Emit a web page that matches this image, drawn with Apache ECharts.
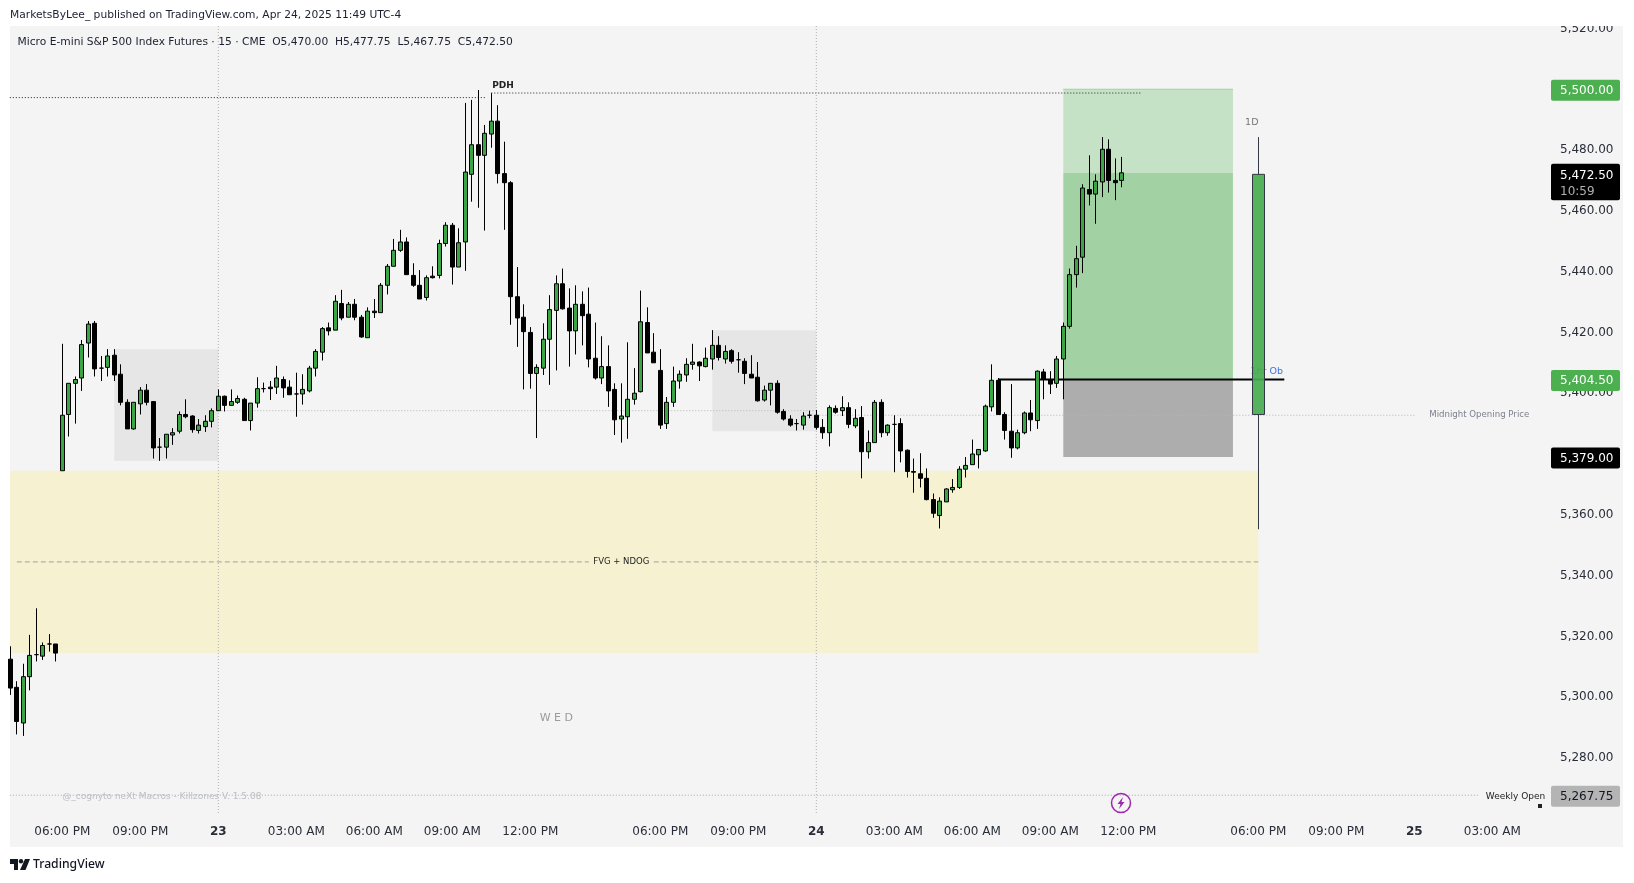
<!DOCTYPE html>
<html>
<head>
<meta charset="utf-8">
<title>Micro E-mini S&P 500</title>
<style>
html, body { margin: 0; padding: 0; background: #fff; }
#chart { width: 1634px; height: 883px; }
</style>
<script src="https://cdn.jsdelivr.net/npm/echarts@6/dist/echarts.min.js"></script>
</head>
<body>
<div id="chart"></div>
<script>
// 15 minute bars, one entry per bar, session break has no gap
var opens = [5312.5,5303.25,5291.5,5306.75,5314,5313.5,5317.5,5317.5,5374.5,5393,5403.25,5405,5416.5,5423,5408.25,5408.5,5412.5,5406.25,5397,5388.25,5396.5,5401,5397.25,5382.25,5382.25,5386.25,5387.5,5393,5392.5,5387.75,5389,5390.75,5394.25,5399,5396,5397,5398,5391,5396.75,5401.5,5402,5402,5404.5,5402,5399.75,5399.75,5400.75,5408.25,5413.5,5421.5,5420.75,5429.5,5425,5429.25,5425,5418.25,5427,5426.5,5435.5,5441.75,5447,5449.75,5438.75,5435.5,5431.5,5438.5,5438.75,5449.25,5455.25,5441.5,5449.75,5472,5481.75,5478.25,5485.25,5489.5,5472.25,5469.25,5431.75,5425,5420,5406.5,5408.25,5417.75,5427.25,5436,5428,5420.5,5429.25,5426,5411.5,5405,5408.75,5401.25,5391.5,5392.25,5398,5400.5,5423.25,5413.5,5407.5,5390,5397,5404,5406,5409.5,5410.25,5408.75,5411.25,5415.75,5411.25,5414,5411,5410.5,5406.25,5405.25,5397.75,5401,5403.25,5394,5391.5,5390,5389.5,5392.75,5392.75,5388.75,5387,5395,5394.25,5395.25,5389.25,5392,5380.75,5383.75,5397,5387,5389.75,5390,5381.25,5374.25,5373.5,5372,5365,5359.75,5364.25,5368.25,5369,5375,5376.5,5379.75,5381,5395.5,5404.25,5393,5387.5,5382,5387,5393.5,5391,5407,5404.5,5403.25,5411.25,5422,5439,5444.75,5467,5465.5,5469.5,5480.25,5470,5470];
var closes = [5303,5292,5306.75,5313.75,5314,5317,5317.5,5314.5,5392.75,5403.25,5404.5,5416,5422.75,5408,5408.25,5412.25,5406,5397,5388.25,5397,5401,5397,5382,5382.25,5386.5,5387,5393,5392.25,5388,5389.5,5390.75,5394.25,5399,5396,5397.25,5398.25,5391,5396.75,5401.5,5401.5,5401.5,5405,5401.75,5399.5,5399.75,5401.25,5408.25,5413.75,5421.25,5420.5,5430.25,5424.75,5429.25,5425,5418.5,5427,5426.5,5435.5,5441.75,5447,5449.75,5439,5435.5,5431,5438,5438,5449.25,5455.25,5441.5,5449.5,5472.75,5481.75,5478.25,5485.5,5489.5,5472.25,5469.25,5431.75,5424.75,5420.25,5406.5,5408.5,5417.75,5427.5,5436,5427.75,5420.5,5429.25,5425.5,5411.25,5405,5408.75,5400.75,5391.25,5392.5,5398,5400,5423.5,5413.25,5410,5389.5,5397,5404,5406.25,5409.5,5410.25,5409,5411.5,5415.75,5411.75,5413.75,5410.5,5411,5406.5,5405,5397.5,5401,5403.25,5393.75,5391.5,5389.5,5390,5392.5,5392.75,5388.75,5387,5395.25,5393.75,5395.25,5389.75,5391.75,5380.75,5383.75,5397,5387,5389.5,5389.75,5381,5374.25,5374,5372,5365,5360.5,5364.5,5368.5,5369,5375,5376.25,5380,5381.5,5395.75,5404.25,5393,5387.75,5382,5387,5393.5,5391.25,5407.25,5404.5,5403,5411.25,5422,5439,5444.25,5467.5,5465.5,5469.75,5480.25,5470,5469.25,5472.5];
var lows = [5300.75,5287.75,5287.25,5302.25,5311.75,5312.25,5315,5311.75,5374.5,5385.75,5390,5400.75,5411.75,5405.5,5404,5405.5,5404,5396,5388.25,5388,5393,5396,5378.5,5377.75,5378.5,5383,5386.75,5391.75,5387,5386.75,5387.25,5388.75,5394.25,5394,5396,5396.5,5391,5387.75,5395.25,5400.25,5397.75,5399.75,5398.5,5399.5,5392.25,5396.25,5400.25,5405.5,5410.75,5419,5420.75,5424,5425,5424,5418.25,5418.25,5424.75,5426.5,5432.5,5441.75,5446.5,5439,5435,5431,5430.5,5437.75,5437.75,5448.25,5435.75,5441.5,5440.25,5463,5461,5453.5,5480.75,5469,5453.75,5422.5,5415.25,5401.25,5401.5,5385.25,5406,5402.75,5407.5,5427.5,5408.75,5412.75,5415.75,5408.5,5404.5,5403,5395.5,5386.25,5383.75,5385,5396.25,5400.25,5413.25,5410,5388.25,5388.25,5395.5,5401.5,5403.75,5407.75,5404,5408.5,5407.75,5410.75,5409.75,5409.75,5406.75,5403,5405,5397.25,5397.25,5396,5393.25,5391,5389,5387.75,5388,5391.75,5388,5385,5382.5,5393.25,5392.5,5388.5,5388.5,5372,5378.5,5383.75,5385.5,5386,5374,5377.25,5372.25,5367.25,5369,5364.75,5359,5355.5,5364.25,5367.25,5368.5,5372.25,5376.5,5375.25,5380.75,5394,5393,5384.75,5378.75,5381.5,5386.5,5387.5,5388.25,5398,5399.75,5401.75,5398,5421.25,5434.75,5439.5,5461.75,5455.75,5464.5,5466,5463.5,5467.75];
var highs = [5316.75,5305.25,5311,5320.5,5329.25,5318,5320.75,5317.5,5416.25,5403.25,5405.5,5417.5,5423.75,5423.75,5412.25,5414.5,5414.5,5409.5,5398,5397,5402,5403,5397.25,5385.25,5386.5,5388.5,5394,5398,5392.75,5391.5,5392.75,5395,5401.25,5399.25,5401.25,5399.25,5398.5,5396.75,5405.25,5403.5,5404,5409,5405.5,5404.25,5406.75,5406.25,5409,5414.5,5421.75,5423.25,5432.25,5434,5430,5431,5425.75,5428.25,5431,5436.25,5442.5,5450.75,5453.75,5451.25,5442.75,5440.5,5438.75,5441.75,5450.5,5456.25,5456,5454.25,5495.5,5496.5,5499.75,5488.25,5498.75,5494.75,5482.75,5469.75,5441.5,5429.25,5421.75,5409.5,5423,5432.25,5438.75,5441,5434.5,5435.5,5433.5,5434.75,5423.25,5418.75,5415.75,5403.25,5403.25,5416.75,5408.25,5433.75,5428.25,5419.75,5414.5,5398.75,5408.75,5407.5,5411.5,5416.25,5410.5,5415,5420.75,5418.75,5415.75,5414.5,5413.5,5411.5,5412.5,5410.25,5402.5,5403.25,5404.25,5394.75,5392.75,5391.5,5393.75,5394.25,5394.5,5391.5,5396,5396,5399,5397,5394.75,5395.75,5387.75,5397.75,5398,5389.75,5392.75,5391.75,5381.5,5378.5,5380.25,5375.25,5367,5365.75,5368.75,5371.75,5376,5379,5384.75,5381.5,5396.25,5409.5,5405,5393.75,5403,5388,5394,5397.75,5407.5,5408,5407.25,5412.25,5423.25,5441,5448.5,5468.75,5478.25,5472,5484.25,5483.5,5477.25,5477.75];

// higher timeframe candle drawn at the right: bar position, open, close, low, high
var dailyBar = [192, 5393, 5472, 5355.25, 5484.25];

// time axis
var timeTicks = [8,20,32,44,56,68,80,100,112,124,136,148,160,172,192,204,216,228];
var timeLabels = ['06:00 PM','09:00 PM','23','03:00 AM','06:00 AM','09:00 AM','12:00 PM','06:00 PM','09:00 PM','24','03:00 AM','06:00 AM','09:00 AM','12:00 PM','06:00 PM','09:00 PM','25','03:00 AM'];
var dayTicks = [32, 124];

// price axis
var priceTicks = [5280,5300,5320,5340,5360,5380,5400,5420,5440,5460,5480,5500,5520];

// drawn zones: from bar, to bar, low price, high price
var sessionBoxes = [[16, 32, 5377.75, 5414.5], [108, 124, 5387.5, 5420.75]];
var fvgZone = [-1, 192, 5314.5, 5374.5];
var profitFar = [162, 188.1, 5472.5, 5500];
var profitNear = [162, 188.1, 5404.5, 5472.5];
var riskZone = [162, 188.1, 5379, 5404.5];

// drawn levels: from bar, to bar, price
var pdhLeft = [-1, 73, 5497.25];
var pdhRight = [74, 174, 5498.75];
var midnightOpen1 = [32, 124, 5394.25];
var midnightOpen2 = [124, 216, 5392.75];
var weeklyOpen = [-1, 226, 5267.75];
var fvgMidLeft = [1, 89, 5344.5];
var fvgMidRight = [99, 192, 5344.5];
var orderBlock = [152, 196, 5404.5];
var profitTop = [162, 188.1, 5500];

var barStep = 6.5;
var gridLeft = 10, gridRight = 1551, gridTop = 26, gridBottom = 813;
var xMin = -0.046;
var xMax = xMin + (gridRight - gridLeft) / barStep;
var yMin = 5261.9, yMax = 5520.8;

var font = '"DejaVu Sans", sans-serif';

var bars = opens.map(function (o, i) {
    return [i, o, closes[i], lows[i], highs[i]];
});

function levelSeries(level, color, dash, width) {
    return {
        type: 'line',
        data: [[level[0], level[2]], [level[1], level[2]]],
        showSymbol: false,
        silent: true,
        z: 2,
        lineStyle: { color: color, type: dash, width: width }
    };
}

function areaPair(zone, color) {
    return [
        { coord: [zone[0], zone[3]], itemStyle: { color: color } },
        { coord: [zone[1], zone[2]] }
    ];
}

var series = [{
    // carrier for the shaded zones
    type: 'line',
    data: [],
    silent: true,
    markArea: {
        silent: true,
        z: 1,
        data: [
            areaPair(fvgZone, '#f6f1d1'),
            areaPair(sessionBoxes[0], '#e6e6e6'),
            areaPair(sessionBoxes[1], '#e6e6e6'),
            areaPair(profitFar, '#c5e1c6'),
            areaPair(profitNear, '#a2d2a3'),
            areaPair(riskZone, '#adadad')
        ]
    }
},
    levelSeries(pdhLeft, '#222', [1, 2], 1),
    levelSeries(pdhRight, '#222', [1, 2], 1),
    levelSeries(midnightOpen1, '#b5b5b5', [1, 2], 1),
    levelSeries(midnightOpen2, '#b5b5b5', [1, 2], 1),
    levelSeries(weeklyOpen, '#a8a8a8', [1, 2], 1),
    levelSeries(fvgMidLeft, '#a3a296', [5, 3], 1),
    levelSeries(fvgMidRight, '#a3a296', [5, 3], 1),
    levelSeries(profitTop, '#a2d2a3', 'solid', 1),
    levelSeries(orderBlock, '#000', 'solid', 2)
];

dayTicks.forEach(function (d) {
    series.push({
        type: 'line',
        data: [[d, yMin], [d, yMax]],
        showSymbol: false,
        silent: true,
        z: 2,
        lineStyle: { color: '#b0b0b0', type: [1, 2], width: 1 }
    });
});

series.push({
    type: 'candlestick',
    data: bars,
    encode: { x: 0, y: [1, 2, 3, 4] },
    barWidth: 4.5,
    z: 3,
    silent: true,
    itemStyle: {
        color: '#3ba545',
        color0: '#000',
        borderColor: '#000',
        borderColor0: '#000',
        borderColorDoji: '#000',
        borderWidth: 1
    }
});

series.push({
    type: 'candlestick',
    data: [dailyBar],
    encode: { x: 0, y: [1, 2, 3, 4] },
    barWidth: 12,
    z: 4,
    silent: true,
    itemStyle: {
        color: 'rgba(70,172,80,0.92)',
        borderColor: '#333845',
        borderWidth: 1
    }
});

var chart = echarts.init(document.getElementById('chart'));

chart.setOption({
    animation: false,
    grid: {
        left: gridLeft,
        top: gridTop,
        width: gridRight - gridLeft,
        height: gridBottom - gridTop,
        containLabel: false
    },
    xAxis: {
        type: 'value',
        min: xMin,
        max: xMax,
        splitLine: { show: false },
        axisLine: { show: false },
        axisTick: { show: false },
        axisLabel: {
            customValues: timeTicks,
            margin: 13,
            color: '#2a2e39',
            fontFamily: font,
            fontSize: 12,
            formatter: function (v) {
                var t = timeLabels[timeTicks.indexOf(v)];
                return t.length < 3 ? '{day|' + t + '}' : t;
            },
            rich: { day: { fontWeight: 'bold', fontSize: 12, fontFamily: font, color: '#2a2e39' } }
        }
    },
    yAxis: {
        type: 'value',
        position: 'right',
        min: yMin,
        max: yMax,
        scale: true,
        splitLine: { show: false },
        axisLine: { show: false },
        axisTick: { show: false },
        axisLabel: {
            customValues: priceTicks,
            margin: 9,
            padding: [2, 0, 0, 0],
            color: '#2a2e39',
            fontFamily: font,
            fontSize: 12,
            formatter: function (v) {
                return v.toLocaleString('en-US', { minimumFractionDigits: 2 });
            }
        }
    },
    series: series
});

// chart coordinates to pixels, for annotations and price tags
function px(bar, price) {
    return chart.convertToPixel({ gridIndex: 0 }, [bar, price]);
}

function note(text, bar, price, size, color, align, z, weight) {
    var p = px(bar, price);
    return {
        type: 'text',
        z: z || 10,
        silent: true,
        style: {
            x: p[0], y: p[1], text: text, fill: color,
            font: (weight || 'normal') + ' ' + size + 'px ' + font,
            textAlign: align || 'center', textVerticalAlign: 'middle'
        }
    };
}

function priceTag(price, text, bg, fg) {
    var y = px(0, price)[1] + 1;
    return [
        { type: 'rect', z: 20, silent: true, shape: { x: 1551, y: y - 10.5, width: 69, height: 21, r: 2 }, style: { fill: bg } },
        { type: 'text', z: 21, silent: true, style: { x: 1560, y: y + 0.5, text: text, fill: fg, font: '12px ' + font, textVerticalAlign: 'middle' } }
    ];
}

var clockY = px(0, 5472.5)[1];
var graphics = [
    { type: 'rect', z: -1, silent: true, shape: { x: 10, y: 26, width: 1613, height: 821 }, style: { fill: '#f4f4f4' } },
    { type: 'rect', z: 50, silent: true, shape: { x: 0, y: 0, width: 1634, height: 26 }, style: { fill: '#fff' } },
    { type: 'text', z: 51, silent: true, style: { x: 10, y: 15, text: 'MarketsByLee_ published on TradingView.com, Apr 24, 2025 11:49 UTC-4', fill: '#1c2030', font: '10.7px ' + font, textVerticalAlign: 'middle' } },
    { type: 'text', z: 51, silent: true, style: { x: 17.5, y: 42, text: 'Micro E-mini S&P 500 Index Futures \u00b7 15 \u00b7 CME  O5,470.00  H5,477.75  L5,467.75  C5,472.50', fill: '#1c2030', font: '10.7px ' + font, textVerticalAlign: 'middle' } },

    note('PDH', 75.8, 5501.2, 9, '#222', 'center', 10, 'bold'),
    note('FVG + NDOG', 94, 5344.5, 8.5, '#222'),
    note('W E D', 84, 5293.2, 11, '#9a9a9a'),
    note('@_cognyto neXt Macros - Killzones V. 1.5.08', 8, 5267.4, 9, '#bcbec5', 'left'),
    note('Midnight Opening Price', 218.3, 5392.75, 8.6, '#7d808c', 'left'),
    note('Weekly Open', 227, 5267.4, 9, '#222', 'left'),
    note('1D', 191, 5489.2, 9.5, '#777'),
    note('1hr Ob', 190.8, 5407, 9.5, '#3f72e5', 'left', 2),

    // small marker under Weekly Open
    { type: 'rect', z: 10, silent: true, shape: { x: 1538, y: 804, width: 4, height: 4 }, style: { fill: '#222' } },

    // purple lightning badge
    { type: 'circle', z: 10, silent: true, shape: { cx: 1121, cy: 803, r: 9.5 }, style: { fill: 'none', stroke: '#9c27b0', lineWidth: 1.5 } },
    { type: 'polygon', z: 10, silent: true, shape: { points: [[1123, 797], [1117.5, 804], [1120.5, 804], [1119, 809], [1124.5, 802], [1121.5, 802]] }, style: { fill: '#9c27b0' } },

    // TradingView logo, bottom left
    { type: 'polygon', z: 10, silent: true, shape: { points: [[10, 859], [18, 859], [18, 870], [14, 870], [14, 864], [10, 864]] }, style: { fill: '#131722' } },
    { type: 'circle', z: 10, silent: true, shape: { cx: 21, cy: 861.3, r: 2.2 }, style: { fill: '#131722' } },
    { type: 'polygon', z: 10, silent: true, shape: { points: [[25, 859], [30, 859], [25.5, 870], [20, 870]] }, style: { fill: '#131722' } },
    { type: 'text', z: 10, silent: true, style: { x: 33, y: 865, text: 'TradingView', fill: '#131722', font: '500 12.2px "Noto Sans", sans-serif', textVerticalAlign: 'middle' } },

    // last price tag with countdown
    { type: 'rect', z: 20, silent: true, shape: { x: 1551, y: clockY - 9, width: 69, height: 36.5, r: 2 }, style: { fill: '#000' } },
    { type: 'text', z: 21, silent: true, style: { x: 1560, y: clockY + 3, text: '5,472.50', fill: '#fff', font: '12px ' + font, textVerticalAlign: 'middle' } },
    { type: 'text', z: 21, silent: true, style: { x: 1560, y: clockY + 19, text: '10:59', fill: '#b0b0b0', font: '12px ' + font, textVerticalAlign: 'middle' } }
];

graphics = graphics
    .concat(priceTag(5500, '5,500.00', '#4caf50', '#fff'))
    .concat(priceTag(5404.5, '5,404.50', '#4caf50', '#fff'))
    .concat(priceTag(5379, '5,379.00', '#000', '#fff'))
    .concat(priceTag(5267.75, '5,267.75', '#b4b4b4', '#131722'));

chart.setOption({ graphic: graphics });
</script>
</body>
</html>
